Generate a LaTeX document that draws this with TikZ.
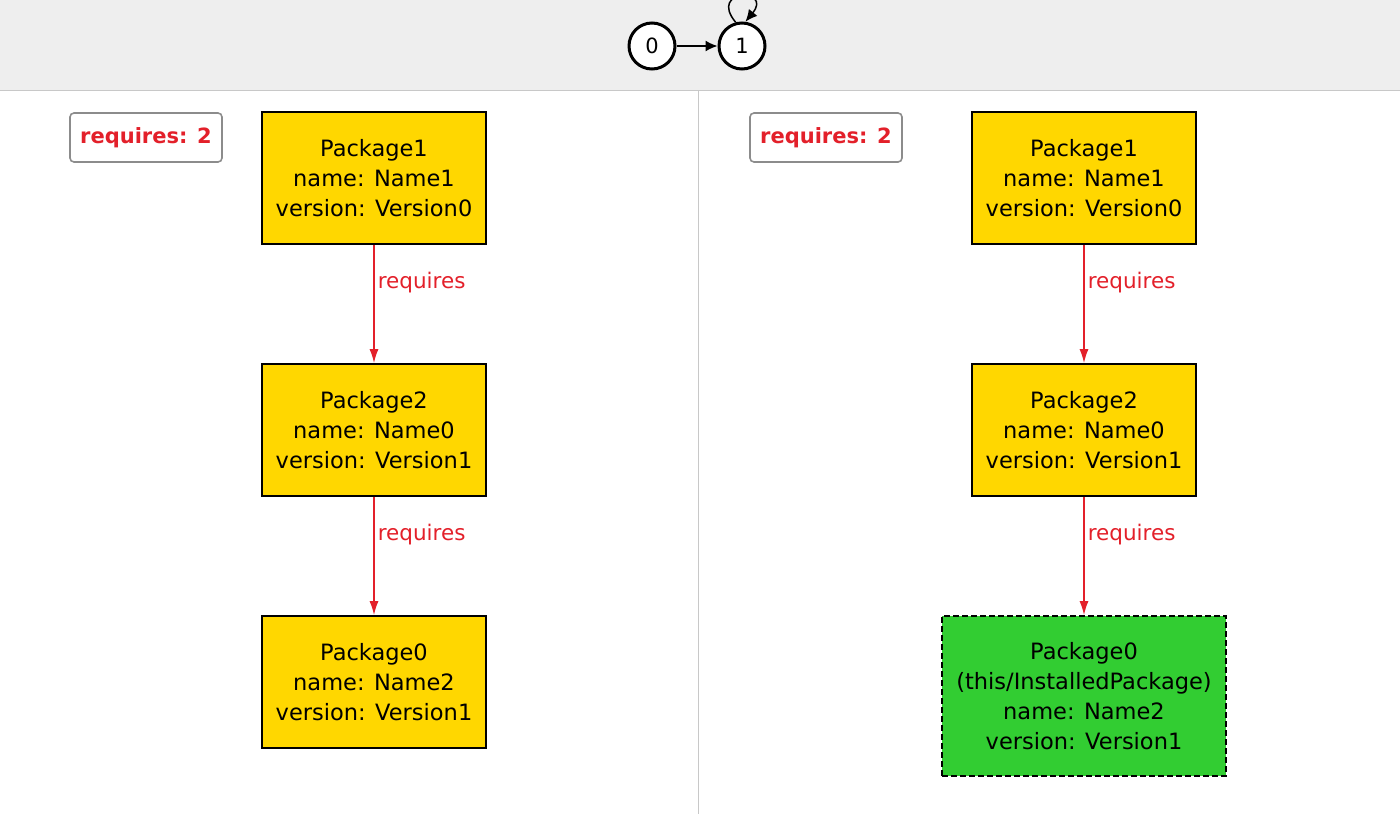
\documentclass[tikz,border=0pt]{standalone}
\usepackage{fontspec}
\setmainfont{DejaVu Sans}
\usetikzlibrary{arrows.meta}
\definecolor{pkgyellow}{HTML}{FFD700}
\definecolor{pkggreen}{HTML}{32CD32}
\definecolor{reqred}{HTML}{E3202A}
\definecolor{bargray}{HTML}{EEEEEE}
\definecolor{linegray}{HTML}{C8C8C8}
\tikzset{
    state/.style={circle,draw,line width=3pt,fill=white,minimum size=46pt,inner sep=0pt,font=\fontsize{21}{24}\selectfont},
    tedge/.style={-{Latex[length=12pt,width=11pt]},line width=1.5pt,draw=black},
    package/.style={rectangle,draw,line width=1.6pt,fill=pkgyellow,minimum width=224pt,minimum height=132pt,align=center,font=\fontsize{22.5}{30}\selectfont},
    installed/.style={package,fill=pkggreen,dashed,dash pattern=on 6pt off 3pt,minimum width=284pt,minimum height=160pt},
    counter/.style={rectangle,rounded corners=4pt,draw=gray!90,line width=1.6pt,fill=white,text=reqred,minimum width=152pt,minimum height=49pt,font=\bfseries\fontsize{21}{24}\selectfont},
    req/.style={-{Latex[length=14pt,width=9pt]},line width=1.6pt,draw=reqred},
    reqlabel/.style={text=reqred,font=\fontsize{21.5}{24}\selectfont,anchor=west,inner sep=3pt},
}
\begin{document}
\begin{tikzpicture}[x=1pt,y=1pt]
    \useasboundingbox (0,0) rectangle (1400,-814);
    % top bar
    \fill[bargray] (0,0) rectangle (1400,-90);
    \draw[linegray,line width=1pt] (0,-90) -- (1400,-90);
    \draw[linegray,line width=1pt] (698,-90) -- (698,-814);
    \node[state] (s0) at (652,-46) {0};
    \node[state] (s1) at (742,-46) {1};
    \draw[tedge] (s0) -- (s1);
    \draw[tedge] (s1.105) .. controls +(-28,34) and +(28,34) .. (s1.82);
    % left panel
    \node[counter] (c1) at (146,-137.5) {requires: 2};
    \node[package] (p1) at (374,-178) {Package1\\name: Name1\\version: Version0};
    \node[package] (p2) at (374,-430) {Package2\\name: Name0\\version: Version1};
    \node[package] (p0) at (374,-682) {Package0\\name: Name2\\version: Version1};
    \draw[req] (p1) -- node[reqlabel,pos=0.32] {requires} (p2);
    \draw[req] (p2) -- node[reqlabel,pos=0.32] {requires} (p0);
    % right panel
    \node[counter] (c2) at (826,-137.5) {requires: 2};
    \node[package] (q1) at (1084,-178) {Package1\\name: Name1\\version: Version0};
    \node[package] (q2) at (1084,-430) {Package2\\name: Name0\\version: Version1};
    \node[installed] (q0) at (1084,-696) {Package0\\(this/InstalledPackage)\\name: Name2\\version: Version1};
    \draw[req] (q1) -- node[reqlabel,pos=0.32] {requires} (q2);
    \draw[req] (q2) -- node[reqlabel,pos=0.32] {requires} (q0);
\end{tikzpicture}
\end{document}
